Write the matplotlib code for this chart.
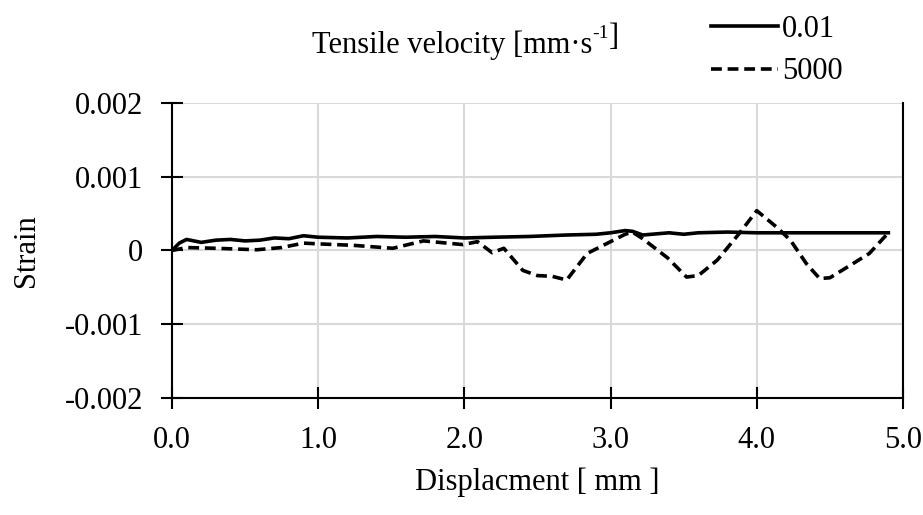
import matplotlib.pyplot as plt
import numpy as np

plt.rcParams['font.family'] = ['Liberation Serif', 'DejaVu Serif']
plt.rcParams['axes.unicode_minus'] = False

# displacement [mm] and strain values
x_slow = [0.0, 0.05, 0.1, 0.15, 0.2, 0.3, 0.4, 0.5, 0.6, 0.7, 0.8, 0.9, 1.0, 1.2, 1.4, 1.6,
          1.8, 2.0, 2.2, 2.44, 2.7, 2.9, 3.0, 3.1, 3.15, 3.22, 3.4, 3.5, 3.6, 3.8, 4.0, 4.5, 4.9]
strain_slow = [0.0, 0.0001, 0.00015, 0.00013, 0.00011, 0.00014, 0.00015, 0.00013, 0.00014,
               0.00017, 0.00016, 0.0002, 0.00018, 0.00017, 0.00019, 0.00018, 0.00019, 0.00017,
               0.00018, 0.00019, 0.00021, 0.00022, 0.00024, 0.00027, 0.00026, 0.00021, 0.00024,
               0.00022, 0.00024, 0.00025, 0.00024, 0.00024, 0.00024]

x_fast = [0.0, 0.1, 0.3, 0.58, 0.75, 0.9, 1.0, 1.24, 1.51, 1.72, 1.99, 2.09, 2.19, 2.27,
          2.4, 2.5, 2.6, 2.7, 2.84, 2.95, 3.1, 3.15, 3.22, 3.39, 3.52, 3.6, 3.73, 3.88, 4.0,
          4.14, 4.23, 4.34, 4.43, 4.5, 4.64, 4.77, 4.9]
strain_fast = [0.0, 0.00004, 0.00003, 0.00001, 0.00004, 0.0001, 0.00009, 0.00007, 0.00003,
               0.00013, 0.00008, 0.00012, -0.00003, 0.00003, -0.00027, -0.00034, -0.00035,
               -0.0004, -0.00004, 0.00007, 0.00022, 0.00025, 0.00016, -0.0001, -0.00036,
               -0.00034, -0.00013, 0.00023, 0.00054, 0.00031, 0.00014, -0.00018, -0.00038,
               -0.00037, -0.0002, -0.00004, 0.00024]

fig = plt.figure(figsize=(9.23, 5.15), dpi=100)
ax = fig.add_axes([0.1863, 0.2272, 0.792, 0.5728])

l1, = ax.plot(x_slow, strain_slow, color='black', linewidth=2.6)
l2, = ax.plot(x_fast, strain_fast, color='black', linewidth=2.6, linestyle=(0, (3, 1.6)))

ax.set_xlim(0, 5)
ax.set_ylim(-0.002, 0.002)
ax.set_xticks(np.arange(0, 5.1, 1.0))
ax.set_xticklabels(['0.0', '1.0', '2.0', '3.0', '4.0', '5.0'])
ax.set_yticks([-0.002, -0.001, 0, 0.001, 0.002])
ax.set_yticklabels(['-0.002', '-0.001', '0', '0.001', '0.002'])
ax.grid(True, color='#d9d9d9', linewidth=1.5)
ax.set_axisbelow(True)
ax.tick_params(direction='inout', length=16, width=1.5, labelsize=22)
ax.tick_params(axis='x', pad=12)
ax.tick_params(axis='y', pad=13)
ax.tick_params(top=False, right=False)
for s in ['left', 'bottom', 'right']:
    ax.spines[s].set_linewidth(1.5)
ax.spines['top'].set_visible(False)

ax.set_xlabel('Displacment [ mm ]', fontsize=22, labelpad=9)
ax.set_ylabel('Strain', fontsize=22, labelpad=17)

# title with a hyphen superscript
t1 = fig.text(0.338, 0.912, 'Tensile velocity [mm·s', fontsize=22, ha='left', va='center')
t2 = ax.annotate('-1', xy=(1, 0.62), xycoords=t1, fontsize=14, ha='left', va='bottom')
ax.annotate(']', xy=(1, -0.62), xycoords=t2, fontsize=22, ha='left', va='bottom')

fig.legend([l1, l2], ['0.01', '5000'], loc='upper left', bbox_to_anchor=(0.74, 1.025),
           frameon=False, fontsize=22, handlelength=2.2, handletextpad=0.15, labelspacing=0.45)

fig.savefig('out.png', dpi=100)
